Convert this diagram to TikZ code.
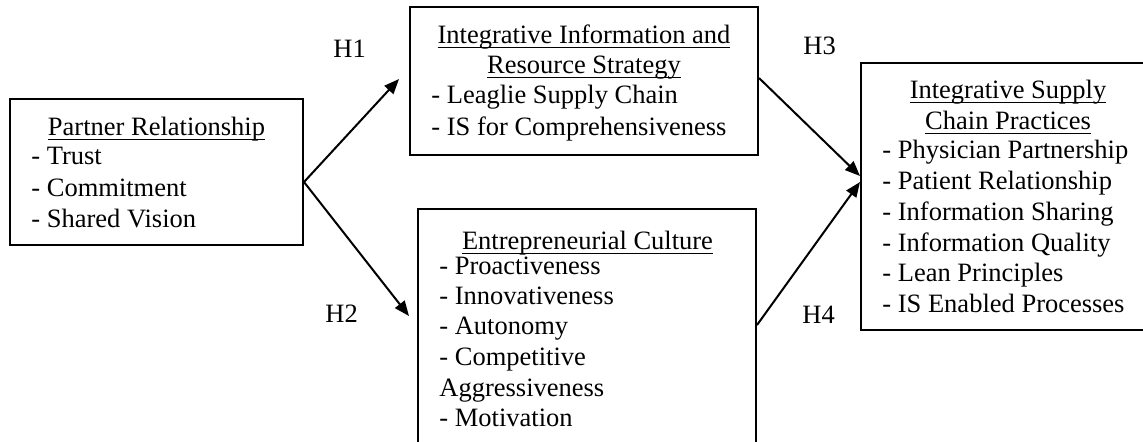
\documentclass[tikz,border=0pt]{standalone}
\usepackage{fontspec}
\setmainfont{Liberation Serif}
\usetikzlibrary{arrows.meta,calc}
\newcommand\wordul[1]{\setbox0\hbox{#1}\rlap{\rule[-2.6pt]{\wd0}{0.75pt}}\box0}
\begin{document}
\begin{tikzpicture}[x=0.5pt,y=-0.5pt,
  box/.style={draw, line width=1pt, inner sep=0pt, rectangle},
  txt/.style={inner sep=0pt, font=\fontsize{13.25pt}{15.5pt}\selectfont},
  itm/.style={txt, anchor=base west},
  ttl/.style={txt, anchor=base},
  arr/.style={line width=1pt, -{Triangle[length=7.5pt,width=6pt]}}]
\useasboundingbox (0,0) rectangle (1143,441);
% boxes
\node[box, minimum width=146.5pt, minimum height=73pt] (pr) at (156.5,172) {};
\node[box, minimum width=174pt, minimum height=74pt] (iirs) at (584,81) {};
\node[box, minimum width=169pt, minimum height=130.5pt] (ec) at (587,339.5) {};
\node[box, minimum width=147pt, minimum height=133.5pt] (iscp) at (1008,196.5) {};
% partner relationship
\node[ttl] (prt) at (156.5,135) {\wordul{Partner Relationship}};
\node[itm] (pr1) at (31,164) {- Trust};
\node[itm] (pr2) at (31,196) {- Commitment};
\node[itm] (pr3) at (31,227) {- Shared Vision};
% integrative information
\node[ttl] (iit1) at (584,43) {\wordul{Integrative Information and}};
\node[ttl] (iit2) at (584,73) {\wordul{Resource Strategy}};
\node[itm] (ii1) at (431,103) {- Leaglie Supply Chain};
\node[itm] (ii2) at (431,135) {- IS for Comprehensiveness};
% entrepreneurial culture
\node[ttl] (ect) at (587.5,249) {\wordul{Entrepreneurial Culture}};
\node[itm] (ec1) at (439,274) {- Proactiveness};
\node[itm] (ec2) at (439,304) {- Innovativeness};
\node[itm] (ec3) at (439,334) {- Autonomy};
\node[itm] (ec4) at (439,365) {- Competitive};
\node[itm] (ec5) at (439,396) {Aggressiveness};
\node[itm] (ec6) at (439,426) {- Motivation};
% integrative supply chain
\node[ttl] (ist1) at (1008,98) {\wordul{Integrative Supply}};
\node[ttl] (ist2) at (1008,129) {\wordul{Chain Practices}};
\node[itm] (is1) at (882,158) {- Physician Partnership};
\node[itm] (is2) at (882,189) {- Patient Relationship};
\node[itm] (is3) at (882,220) {- Information Sharing};
\node[itm] (is4) at (882,251) {- Information Quality};
\node[itm] (is5) at (882,281) {- Lean Principles};
\node[itm] (is6) at (882,312) {- IS Enabled Processes};
% hypothesis labels
\node[itm] (h1) at (333,57) {H1};
\node[itm] (h2) at (325,322) {H2};
\node[itm] (h3) at (803,54) {H3};
\node[itm] (h4) at (802,323) {H4};
% connector end points
\coordinate (prout) at ([yshift=-5pt]pr.east);
\coordinate (iirsin) at ([xshift=-5pt,yshift=1pt]iirs.west);
\coordinate (ecin) at ([xshift=-4pt,yshift=11.75pt]ec.west);
\coordinate (iirsout) at ([yshift=1.5pt]iirs.east);
\coordinate (ecout) at ([yshift=7.25pt]ec.east);
\coordinate (iscpin3) at ([yshift=10.25pt]iscp.west);
\coordinate (iscpin4) at ([yshift=7.25pt]iscp.west);
% connectors
\draw[arr] (prout) -- (iirsin);
\draw[arr] (prout) -- (ecin);
\draw[arr] (iirsout) -- (iscpin3);
\draw[arr] (ecout) -- (iscpin4);
\end{tikzpicture}
\end{document}
